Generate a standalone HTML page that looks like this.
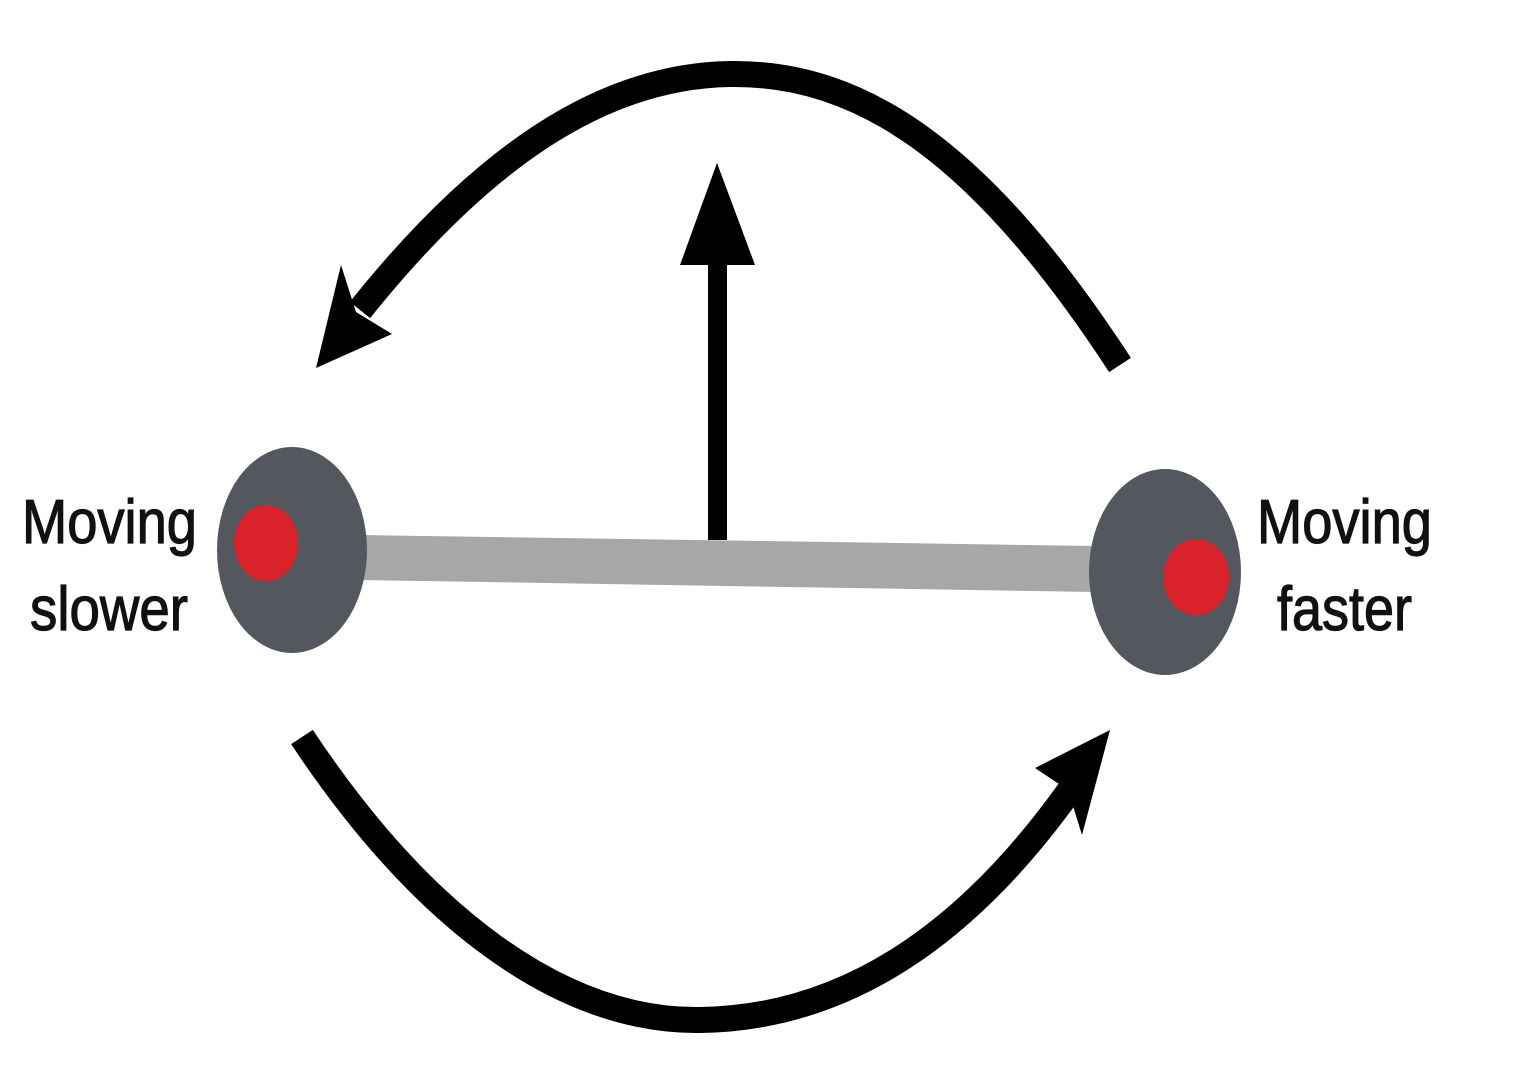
<!DOCTYPE html>
<html><head><meta charset="utf-8"><style>
html,body{margin:0;padding:0;background:#fff;}
svg{display:block;}
</style></head><body>
<svg width="1514" height="1077" viewBox="0 0 1514 1077" xmlns="http://www.w3.org/2000/svg">
<rect width="1514" height="1077" fill="#fff"/>
<path d="M1120,365 C 980,150 860,72 730,74 C 600,76 480,160 360,310" fill="none" stroke="#000" stroke-width="26"/>
<polygon points="316,368 341,265 356,312 392,334" fill="#000"/>
<path d="M302,737 C 420,915 560,1022 700,1020 C 850,1018 970,930 1070,790" fill="none" stroke="#000" stroke-width="26"/>
<polygon points="1110,730 1082,835 1068,790 1035,768" fill="#000"/>
<rect x="708" y="255" width="19" height="285" fill="#000"/>
<polygon points="717,163 755,265 680,265" fill="#000"/>
<polygon points="360,535 1095,546 1095,592 360,580" fill="#a5a8a7"/>
<ellipse cx="292" cy="550" rx="75" ry="103" fill="#54575d"/>
<ellipse cx="266" cy="543" rx="32" ry="38" fill="#d9222a"/>
<ellipse cx="1165" cy="572" rx="76" ry="103" fill="#54575d"/>
<ellipse cx="1196" cy="577" rx="33" ry="38" fill="#d9222a"/>
<g font-family="'Liberation Sans', sans-serif" font-size="62" fill="#111" stroke="#111" stroke-width="1.2">
<text x="22" y="543" textLength="175" lengthAdjust="spacingAndGlyphs">Moving</text>
<text x="30" y="630" textLength="158" lengthAdjust="spacingAndGlyphs">slower</text>
<text x="1257" y="543" textLength="175" lengthAdjust="spacingAndGlyphs">Moving</text>
<text x="1277" y="630" textLength="135" lengthAdjust="spacingAndGlyphs">faster</text>
</g>
</svg>
</body></html>
